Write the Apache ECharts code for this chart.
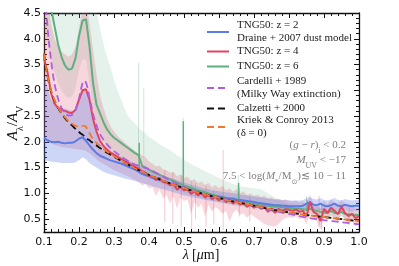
<!DOCTYPE html>
<html><head><meta charset="utf-8">
<script src="https://cdn.jsdelivr.net/npm/echarts@6/dist/echarts.min.js"></script>
<style>html,body{margin:0;padding:0;background:#fff}#c{width:399px;height:266px}</style>
</head><body><div id="c"></div>
<script>
// ---- model curves (smooth laws) ----
const lamModel = [0.10,0.11,0.12,0.13,0.14,0.15,0.16,0.17,0.18,0.19,0.195,0.20,0.205,0.21,0.215,0.22,0.225,0.23,0.235,0.24,0.245,0.25,0.26,0.28,0.30,0.35,0.40,0.45,0.50,0.55,0.60,0.65,0.70,0.75,0.80,0.85,0.90,0.95,1.00];
const cardelli = [5.24,4.22,3.59,3.13,2.84,2.66,2.56,2.51,2.52,2.62,2.71,2.84,3.00,3.13,3.19,3.15,3.03,2.86,2.70,2.55,2.42,2.32,2.15,1.95,1.82,1.59,1.47,1.29,1.12,1.00,0.91,0.83,0.75,0.67,0.60,0.53,0.48,0.44,0.40];
const calzetti = [3.71,3.27,2.99,2.80,2.66,2.55,2.46,2.38,2.32,2.25,2.22,2.19,2.16,2.14,2.11,2.08,2.05,2.03,2.00,1.98,1.95,1.93,1.88,1.79,1.71,1.52,1.36,1.22,1.10,1.00,0.91,0.83,0.76,0.69,0.63,0.58,0.54,0.50,0.46];
const kriek = [3.71,3.28,3.00,2.81,2.67,2.56,2.48,2.40,2.35,2.31,2.30,2.29,2.30,2.31,2.31,2.29,2.23,2.17,2.11,2.06,2.02,1.98,1.92,1.81,1.72,1.52,1.36,1.22,1.10,1.00,0.91,0.83,0.76,0.69,0.63,0.58,0.54,0.50,0.46];

// ---- TNG50 curves ----
const lam = [0.10,0.11,0.12,0.13,0.14,0.15,0.16,0.17,0.18,0.19,
0.20,0.21,0.22,0.23,0.24,0.25,0.26,0.27,0.28,0.29,
0.30,0.31,0.32,0.33,0.34,0.35,0.36,0.37,0.38,0.39,
0.40,0.41,0.42,0.43,0.44,0.45,0.46,0.47,0.48,0.49,
0.50,0.51,0.52,0.53,0.54,0.55,0.56,0.57,0.58,0.59,
0.60,0.61,0.62,0.63,0.64,0.65,0.66,0.67,0.68,0.69,
0.70,0.71,0.72,0.73,0.74,0.75,0.76,0.77,0.78,0.79,
0.80,0.81,0.82,0.83,0.84,0.85,0.86,0.87,0.88,0.89,
0.90,0.91,0.92,0.93,0.94,0.95,0.96,0.97,0.98,0.99,1.00];

const z2Med = [2.07,2.03,2.00,1.99,2.00,1.98,1.97,1.98,1.98,2.01,
2.06,2.09,2.02,1.93,1.85,1.78,1.73,1.70,1.67,1.64,
1.62,1.60,1.58,1.55,1.52,1.49,1.46,1.42,1.38,1.35,
1.33,1.30,1.28,1.26,1.24,1.21,1.19,1.17,1.15,1.12,
1.10,1.08,1.06,1.04,1.02,1.00,0.98,0.97,0.95,0.94,
0.93,0.92,0.91,0.90,0.90,0.88,0.87,0.86,0.85,0.84,
0.83,0.82,0.81,0.80,0.79,0.78,0.77,0.77,0.76,0.76,
0.75,0.75,0.75,0.75,0.76,0.80,0.82,0.78,0.77,0.80,
0.76,0.75,0.77,0.80,0.76,0.75,0.78,0.76,0.75,0.76,0.76];
const z2Lo = [1.65,1.63,1.62,1.61,1.60,1.59,1.59,1.59,1.59,1.60,
1.64,1.70,1.66,1.59,1.54,1.50,1.46,1.42,1.39,1.37,
1.35,1.33,1.31,1.29,1.27,1.26,1.24,1.22,1.20,1.18,
1.16,1.14,1.12,1.10,1.08,1.06,1.04,1.02,1.00,0.98,
0.96,0.95,0.93,0.92,0.90,0.89,0.87,0.86,0.85,0.84,
0.83,0.82,0.81,0.80,0.79,0.78,0.77,0.76,0.75,0.74,
0.73,0.72,0.71,0.70,0.69,0.68,0.68,0.67,0.67,0.66,
0.66,0.66,0.66,0.66,0.67,0.69,0.70,0.68,0.67,0.68,
0.66,0.66,0.67,0.68,0.66,0.66,0.67,0.66,0.65,0.66,0.66];
const z2Hi = [3.30,3.05,2.82,2.72,2.68,2.66,2.64,2.62,2.60,2.64,
2.82,2.98,3.00,2.80,2.43,2.18,2.02,1.93,1.87,1.82,
1.78,1.74,1.71,1.68,1.64,1.61,1.58,1.55,1.52,1.48,
1.45,1.42,1.39,1.37,1.35,1.32,1.30,1.28,1.26,1.23,
1.21,1.19,1.17,1.15,1.13,1.11,1.09,1.08,1.06,1.05,
1.04,1.03,1.02,1.01,1.00,0.99,0.98,0.97,0.96,0.95,
0.94,0.93,0.92,0.91,0.90,0.89,0.88,0.88,0.87,0.87,
0.86,0.86,0.86,0.86,0.87,0.91,0.93,0.89,0.88,0.91,
0.87,0.86,0.88,0.91,0.87,0.86,0.89,0.87,0.86,0.87,0.87];

const z4Med = [3.62,3.35,2.95,2.74,2.66,2.62,2.60,2.57,2.56,2.62,
2.82,3.00,3.02,2.82,2.45,2.20,2.02,1.92,1.85,1.79,
1.75,1.71,1.67,1.63,1.59,1.55,1.52,1.48,1.43,1.40,
1.34,1.33,1.26,1.30,1.22,1.21,1.16,1.18,1.07,1.13,
1.06,1.08,0.99,1.04,0.96,1.00,0.92,0.97,0.89,0.93,
0.86,0.92,0.83,0.88,0.80,0.86,0.78,0.82,0.74,0.79,
0.72,0.77,0.70,0.74,0.64,0.71,0.62,0.70,0.66,0.69,
0.68,0.66,0.69,0.64,0.66,0.55,0.84,0.64,0.60,0.46,
0.70,0.62,0.72,0.66,0.60,0.74,0.62,0.56,0.60,0.52,0.56];
const z4Lo = [2.05,2.00,1.97,1.94,1.92,1.90,1.89,1.88,1.87,1.86,
1.85,1.84,1.82,1.78,1.72,1.66,1.61,1.57,1.53,1.49,
1.45,1.42,1.39,1.36,1.33,1.29,1.26,1.22,1.15,1.18,
1.10,1.12,0.95,1.08,0.90,0.98,0.80,0.96,0.70,0.92,
0.85,0.88,0.60,0.84,0.72,0.80,0.55,0.78,0.65,0.74,
0.68,0.60,0.66,0.45,0.62,0.68,0.58,0.62,0.52,0.60,
0.55,0.50,0.45,0.40,0.38,0.36,0.35,0.40,0.48,0.52,
0.54,0.52,0.55,0.50,0.52,0.40,0.62,0.50,0.45,0.30,
0.55,0.48,0.58,0.50,0.45,0.60,0.48,0.42,0.46,0.36,0.40];
const z4Hi = [5.00,4.80,4.30,4.00,3.85,3.75,3.70,3.65,3.70,3.85,
4.20,4.60,4.70,4.30,3.80,3.30,2.90,2.65,2.45,2.30,
2.20,2.12,2.05,1.99,1.93,1.88,1.82,1.78,1.74,1.70,
1.62,1.58,1.52,1.54,1.47,1.45,1.40,1.42,1.33,1.37,
1.30,1.32,1.24,1.28,1.20,1.23,1.16,1.20,1.12,1.16,
1.10,1.15,1.06,1.10,1.03,1.08,1.00,1.04,0.97,1.00,
0.95,0.98,0.93,0.96,0.90,0.93,0.88,0.90,0.87,0.88,
0.86,0.84,0.86,0.82,0.84,0.75,0.98,0.80,0.78,0.70,
0.86,0.78,0.88,0.82,0.78,0.88,0.78,0.72,0.76,0.70,0.72];

const z6Med = [5.60,5.00,4.60,4.25,3.90,3.65,3.48,3.40,3.42,3.62,
4.05,4.35,4.38,3.85,3.15,2.72,2.55,2.38,2.24,2.15,
2.08,2.03,1.98,1.93,1.88,1.83,1.78,1.74,1.54,1.50,
1.46,1.42,1.39,1.36,1.33,1.30,1.27,1.24,1.21,1.18,
1.15,1.13,1.11,1.08,1.06,1.04,1.02,1.00,0.98,0.96,
0.95,0.93,0.91,0.90,0.88,0.87,0.85,0.84,0.83,0.82,
0.80,0.79,0.78,0.77,0.76,0.75,0.74,0.74,0.73,0.72,
0.72,0.71,0.70,0.70,0.69,0.68,0.70,0.67,0.66,0.64,
0.63,0.62,0.66,0.62,0.61,0.64,0.60,0.59,0.59,0.58,0.58];
const z6Lo = [4.20,3.90,3.60,3.35,3.15,3.00,2.90,2.85,2.88,3.05,
3.40,3.60,3.60,3.15,2.60,2.28,2.12,2.00,1.90,1.82,
1.76,1.72,1.68,1.64,1.60,1.56,1.52,1.48,1.36,1.34,
1.30,1.27,1.24,1.21,1.18,1.15,1.12,1.09,1.06,1.04,
1.01,0.99,0.97,0.95,0.93,0.91,0.89,0.87,0.85,0.84,
0.82,0.81,0.79,0.78,0.76,0.75,0.74,0.73,0.72,0.71,
0.70,0.69,0.68,0.67,0.66,0.65,0.64,0.64,0.63,0.62,
0.62,0.61,0.60,0.60,0.59,0.58,0.60,0.57,0.56,0.55,
0.54,0.53,0.56,0.53,0.52,0.55,0.51,0.50,0.50,0.49,0.49];
const z6Hi = [6,6,6,6,6,6,6,6,6,6,
6,6,6,6,5.00,4.55,4.20,3.90,3.65,3.45,
3.20,3.00,2.82,2.65,2.50,2.42,2.35,2.28,2.22,2.16,
2.10,2.05,2.00,1.96,1.92,1.88,1.84,1.79,1.74,1.70,
1.65,1.61,1.57,1.53,1.50,1.46,1.43,1.40,1.36,1.33,
1.30,1.27,1.24,1.21,1.18,1.16,1.14,1.13,1.12,1.11,
1.10,1.09,1.08,1.04,1.00,0.96,0.92,0.88,0.85,0.82,
0.80,0.79,0.78,0.77,0.76,0.75,0.76,0.74,0.73,0.71,
0.70,0.69,0.72,0.69,0.68,0.70,0.67,0.66,0.66,0.65,0.65];

// narrow spectral spikes: [lambda, low, high]
const z6SpikesLight = [[0.370,1.80,3.53],[0.385,1.70,3.04],[0.498,1.60,2.46],[0.655,0.95,1.35],[0.850,0.75,0.95]];
const z6SpikesDark = [[0.372,1.48,1.98],[0.498,1.10,2.40],[0.656,0.84,1.20],[0.852,0.66,0.86]];
const z4Spikes = [[0.445,0.45,1.45],[0.468,0.40,1.40],[0.492,0.35,1.35],[0.522,0.30,1.25],[0.533,0.50,1.20],[0.563,0.35,1.15],[0.585,0.40,1.05],[0.612,0.29,1.84],[0.658,0.55,1.10],[0.688,0.45,0.95],[0.886,0.35,0.95],[0.893,0.30,0.80],[0.972,0.38,0.80]];

const yLabelVals = [0.5,1.0,1.5,2.0,2.5,3.0,3.5,4.0,4.5];
const yMinorVals = [0.3,0.4,0.6,0.7,0.8,0.9,1.1,1.2,1.3,1.4,1.6,1.7,1.8,1.9,2.1,2.2,2.3,2.4,2.6,2.7,2.8,2.9,3.1,3.2,3.3,3.4,3.6,3.7,3.8,3.9,4.1,4.2,4.3,4.4];

const N_Z2 = 'TNG50: z = 2\nDraine + 2007 dust model';
const N_Z4 = 'TNG50: z = 4';
const N_Z6 = 'TNG50: z = 6';
const N_CA = 'Cardelli + 1989\n(Milky Way extinction)';
const N_CZ = 'Calzetti + 2000';
const N_KC = 'Kriek & Conroy 2013\n(\u03b4 = 0)';

const C_BLUE = '#5b7be6', C_RED = '#e2435f', C_GREEN = '#5faf80', C_PURPLE = '#b05ee0', C_BLACK = '#111111', C_ORANGE = '#f07a30';

function zip(xs, ys){ return xs.map((x,i)=>[x, ys[i]]); }

function band(name, lo, hi, fill, z){
  return {type:'custom', name:name, z:z, silent:true, clip:true, animation:false,
    data:[[lam[0], lo[0]]],
    renderItem:function(params, api){
      const pts=[];
      for(let i=0;i<lam.length;i++) pts.push(api.coord([lam[i], hi[i]]));
      for(let i=lam.length-1;i>=0;i--) pts.push(api.coord([lam[i], lo[i]]));
      const cs=params.coordSys;
      return {type:'group', clipPath:{type:'rect', shape:{x:cs.x,y:cs.y,width:cs.width,height:cs.height}},
        children:[{type:'polygon', shape:{points:pts}, style:{fill:fill}}]};
    }};
}
function spikes(name, arr, color, width, z){
  return {type:'custom', name:name, z:z, silent:true, clip:true, animation:false,
    data:arr,
    renderItem:function(params, api){
      const a=api.coord([api.value(0), api.value(1)]);
      const b=api.coord([api.value(0), api.value(2)]);
      return {type:'line', shape:{x1:a[0],y1:a[1],x2:b[0],y2:b[1]}, style:{stroke:color, lineWidth:width}};
    }};
}
function line(name, xs, ys, color, width, z, dash){
  return {type:'line', name:name, data:zip(xs, ys), symbol:'none', showSymbol:false, clip:true, z:z,
    smooth: dash ? 0.3 : false, animation:false,
    lineStyle:{color:color, width:width, type: dash ? [7,4] : 'solid'}, itemStyle:{color:color},
    emphasis:{disabled:true}};
}

const legFont = {fontFamily:'Liberation Serif, DejaVu Serif, serif', fontSize:11, color:'#222', lineHeight:13, padding:[0,0,0,3]};
function leg(name, top){
  return {data:[name], left:206, top:top, orient:'vertical', itemWidth:22, itemHeight:10, padding:0, itemGap:0,
    selectedMode:false, textStyle:legFont, itemStyle:{opacity:0, borderWidth:0}};
}

const axisCol = '#111';
function xAx(pos, show){
  return {type:'value', min:0.1, max:1.0, interval:0.1, position:pos,
    axisLine:{show:true, onZero:false, lineStyle:{color:axisCol, width:1.3}},
    axisTick:{show:true, inside:true, length:5, lineStyle:{color:axisCol, width:1}},
    minorTick:{show:true, splitNumber:5, length:3, lineStyle:{color:axisCol, width:1}},
    splitLine:{show:false}, minorSplitLine:{show:false},
    axisLabel:{show:show, margin:5, fontFamily:'DejaVu Sans', fontSize:11, color:'#111',
      formatter:function(v){return v.toFixed(1);}}};
}
function yAx(pos, show, vals, len, lineShow){
  return {type:'value', min:0.25, max:4.5, position:pos,
    axisLine:{show:lineShow, onZero:false, lineStyle:{color:axisCol, width:1.3}},
    axisTick:{show:true, inside:true, length:len, customValues:vals, lineStyle:{color:axisCol, width:1}},
    splitLine:{show:false},
    axisLabel:{show:show, customValues:vals, margin:3, fontFamily:'DejaVu Sans', fontSize:11, color:'#111',
      formatter:function(v){return v.toFixed(1);}}};
}

const chart = echarts.init(document.getElementById('c'), null, {renderer:'canvas'});
const serifIt = 'Liberation Serif, DejaVu Serif, serif';
chart.setOption({
  animation:false,
  backgroundColor:'#fff',
  grid:{left:44, right:40, top:13, bottom:34, containLabel:false},
  xAxis:[xAx('bottom', true), xAx('top', false)],
  yAxis:[yAx('left', true, yLabelVals, 5, true), yAx('right', false, yLabelVals, 5, true),
         yAx('left', false, yMinorVals, 3, false), yAx('right', false, yMinorVals, 3, false)],
  legend:[leg(N_Z2,19), leg(N_Z4,45), leg(N_Z6,60), leg(N_CA,75), leg(N_CZ,102), leg(N_KC,114)],
  series:[
    band('z6band', z6Lo, z6Hi, 'rgba(95,175,128,0.16)', 1),
    spikes('z6sl', z6SpikesLight, 'rgba(95,175,128,0.3)', 1, 1),
    band('z4band', z4Lo, z4Hi, 'rgba(225,70,100,0.22)', 1),
    spikes('z4s', z4Spikes, 'rgba(225,70,100,0.3)', 1, 1),
    band('z2band', z2Lo, z2Hi, 'rgba(90,120,230,0.30)', 1),
    line(N_Z6, lam, z6Med, C_GREEN, 2, 3, false),
    spikes('z6sd', z6SpikesDark, C_GREEN, 1.5, 3),
    line(N_Z2, lam, z2Med, C_BLUE, 2, 3, false),
    line(N_Z4, lam, z4Med, C_RED, 2, 3, false),
    line(N_CA, lamModel, cardelli, C_PURPLE, 1.8, 5, true),
    line(N_CZ, lamModel, calzetti, C_BLACK, 1.8, 5, true),
    line(N_KC, lamModel, kriek, C_ORANGE, 1.8, 6, true)
  ],
  graphic:[
    {type:'text', x:13, y:123, rotation:Math.PI/2, silent:true,
      style:{text:'{a|A}{s|\u03bb}{n|/}{a|A}{s|V}', align:'center', verticalAlign:'middle',
        rich:{a:{fontFamily:serifIt, fontStyle:'italic', fontSize:15, lineHeight:16},
              s:{fontFamily:serifIt, fontSize:10, lineHeight:10, verticalAlign:'bottom', padding:[0,0,-4,0]},
              n:{fontFamily:serifIt, fontSize:15, lineHeight:16}}, fill:'#111'}},
    {type:'text', x:201, y:255, silent:true,
      style:{text:'{a|\u03bb} {n|[}{a|\u03bc}{n|m]}', align:'center', verticalAlign:'middle',
        rich:{a:{fontFamily:serifIt, fontStyle:'italic', fontSize:14}, n:{fontFamily:serifIt, fontSize:14}}, fill:'#111'}},
    {type:'text', x:346, y:145, silent:true,
      style:{text:'{n|(}{i|g}{n| \u2212 }{i|r}{n|)}{s|i}{n| < 0.2}', align:'right', verticalAlign:'middle',
        rich:{n:{fontFamily:serifIt, fontSize:11, fill:'#808080', lineHeight:13}, i:{fontFamily:serifIt, fontStyle:'italic', fontSize:11, fill:'#808080', lineHeight:13},
              s:{fontFamily:serifIt, fontSize:8, fill:'#808080', lineHeight:8, verticalAlign:'bottom', padding:[0,0,-3,0]}}}},
    {type:'text', x:346, y:160, silent:true,
      style:{text:'{i|M}{s|UV}{n| < \u221217}', align:'right', verticalAlign:'middle',
        rich:{n:{fontFamily:serifIt, fontSize:11, fill:'#808080', lineHeight:13}, i:{fontFamily:serifIt, fontStyle:'italic', fontSize:11, fill:'#808080', lineHeight:13},
              s:{fontFamily:serifIt, fontSize:8, fill:'#808080', lineHeight:8, verticalAlign:'bottom', padding:[0,0,-3,0]}}}},
    {type:'text', x:346, y:176, silent:true,
      style:{text:'{n|7.5 < log(}{i|M}{s|*}{n|/M}{s|\u2299}{n|)\u2272 10 \u2212 11}', align:'right', verticalAlign:'middle',
        rich:{n:{fontFamily:serifIt, fontSize:11, fill:'#808080', lineHeight:13}, i:{fontFamily:serifIt, fontStyle:'italic', fontSize:11, fill:'#808080', lineHeight:13},
              s:{fontFamily:'DejaVu Sans', fontSize:7, fill:'#808080', lineHeight:8, verticalAlign:'bottom', padding:[0,0,-3,0]}}}}
  ]
});
</script></body></html>
